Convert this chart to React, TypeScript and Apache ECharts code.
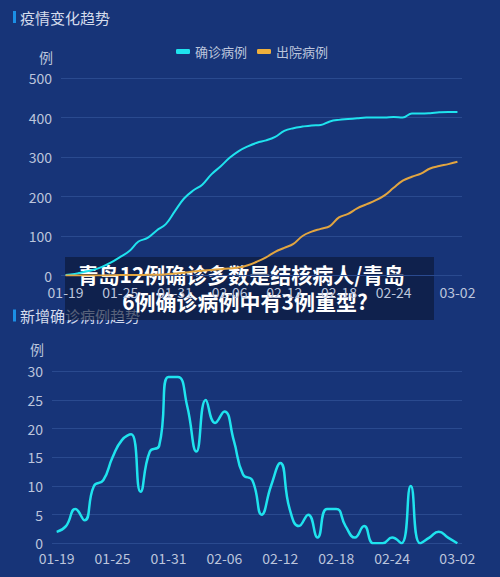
import { useEffect, useRef } from 'react';
import * as echarts from 'echarts';

const dates = [
  '01-19', '01-20', '01-21', '01-22', '01-23', '01-24', '01-25', '01-26', '01-27', '01-28', '01-29',
  '01-30', '01-31', '02-01', '02-02', '02-03', '02-04', '02-05', '02-06', '02-07', '02-08', '02-09',
  '02-10', '02-11', '02-12', '02-13', '02-14', '02-15', '02-16', '02-17', '02-18', '02-19', '02-20',
  '02-21', '02-22', '02-23', '02-24', '02-25', '02-26', '02-27', '02-28', '02-29', '03-01', '03-02',
];

// 疫情变化趋势
const confirmed = [
  1, 4, 9, 14, 22, 33, 47, 62, 86, 95, 114, 130, 163, 195, 215, 230, 256, 276, 298, 315, 327, 336,
  342, 351, 366, 373, 377, 380, 381, 390, 394, 396, 398, 400, 400, 400, 401, 400, 410, 410, 411, 413,
  414, 414,
];
const discharged = [
  0, 0, 0, 0, 0, 0, 1, 1, 1, 2, 2, 3, 5, 7, 10, 12, 14, 16, 18, 20, 26, 35, 46, 60, 70, 80, 100, 111,
  118, 125, 147, 156, 170, 180, 190, 203, 222, 240, 250, 258, 271, 277, 282, 288,
];

// 新增确诊病例趋势
const dailyNew = [
  2, 3, 6, 4, 10, 11, 15, 18, 19, 9, 16, 17, 29, 29, 24, 16, 25, 21, 23, 18, 12, 11, 5, 10, 14, 6,
  3, 5, 1, 6, 6, 3, 1, 3, 0, 0, 1, 0, 10, 0, 1, 2, 1, 0,
];

const topTicks = { min: 0, max: 500, interval: 100 };
const bottomTicks = { min: 0, max: 30, interval: 5 };

const headline = ['青岛12例确诊多数是结核病人/青岛', '6例确诊病例中有3例重型?'];

const BG = '#173478';
const CYAN = '#1fe3ee';
const ORANGE = '#e2a540';
const LABEL = '#bcc5dc';
const GRID_LINE = '#2a4a8f';
const FONT = '"Noto Sans CJK SC", "Noto Sans", sans-serif';

const showLabel = (i: number) => (i % 6 === 0 && i <= 36) || i === dates.length - 1;

function makeX(gridIndex: number, margin: number) {
  return {
    type: 'category' as const,
    gridIndex,
    data: dates,
    boundaryGap: true,
    axisLine: { show: false },
    axisTick: { show: false },
    axisLabel: {
      interval: (i: number) => showLabel(i),
      color: LABEL,
      fontSize: 14,
      fontFamily: FONT,
      margin,
    },
  };
}

function makeY(gridIndex: number, ticks: { min: number; max: number; interval: number }, gap: number) {
  return {
    type: 'value' as const,
    gridIndex,
    ...ticks,
    name: '例',
    nameGap: gap,
    nameTextStyle: { color: LABEL, fontSize: 14, fontFamily: FONT, align: 'right', padding: [0, 8, 0, 0] },
    axisLine: { show: false },
    axisTick: { show: false },
    axisLabel: { color: LABEL, fontSize: 14, fontFamily: FONT, margin: 9 },
    splitLine: { lineStyle: { color: GRID_LINE, width: 1 } },
  };
}

function sectionTitle(text: string, y: number) {
  return [
    { type: 'rect', shape: { x: 13, y: y - 6, width: 3, height: 12 }, style: { fill: '#1b8fe6' } },
    {
      type: 'text',
      x: 20,
      y,
      style: { text, fill: '#d5dcec', font: `15px ${FONT}`, textVerticalAlign: 'middle' },
    },
  ];
}

export default function App() {
  const ref = useRef<HTMLDivElement>(null);

  useEffect(() => {
    if (!ref.current) return;
    const chart = echarts.init(ref.current, undefined, { renderer: 'svg' });
    chart.setOption({
      animation: false,
      backgroundColor: BG,
      textStyle: { fontFamily: FONT },
      legend: {
        left: 171,
        top: 40,
        itemWidth: 14,
        itemHeight: 5,
        itemGap: 10,
        icon: 'roundRect',
        textStyle: { color: LABEL, fontSize: 13, fontFamily: FONT },
        data: ['确诊病例', '出院病例'],
      },
      grid: [
        { left: 61, right: 38, top: 78, bottom: 301.5 },
        { left: 52, right: 38, top: 371.3, bottom: 33.7 },
      ],
      xAxis: [makeX(0, 9), makeX(1, 8)],
      yAxis: [makeY(0, topTicks, 14), makeY(1, bottomTicks, 15)],
      series: [
        {
          name: '确诊病例',
          type: 'line',
          xAxisIndex: 0,
          yAxisIndex: 0,
          data: confirmed,
          smooth: 0.4,
          showSymbol: false,
          itemStyle: { color: CYAN },
          lineStyle: { color: CYAN, width: 2 },
        },
        {
          name: '出院病例',
          type: 'line',
          xAxisIndex: 0,
          yAxisIndex: 0,
          data: discharged,
          smooth: 0.4,
          showSymbol: false,
          itemStyle: { color: '#f0b03c' },
          lineStyle: { color: ORANGE, width: 2 },
        },
        {
          name: '新增确诊',
          type: 'line',
          xAxisIndex: 1,
          yAxisIndex: 1,
          data: dailyNew,
          smooth: true,
          showSymbol: false,
          itemStyle: { color: CYAN },
          lineStyle: { color: CYAN, width: 2.5 },
        },
      ],
      graphic: [
        ...sectionTitle('疫情变化趋势', 17),
        ...sectionTitle('新增确诊病例趋势', 315.5),
        {
          type: 'group',
          z: 100,
          children: [
            {
              type: 'rect',
              shape: { x: 65, y: 257, width: 369, height: 63 },
              style: { fill: 'rgba(12, 22, 52, 0.62)' },
            },
            {
              type: 'text',
              x: 241,
              y: 274,
              style: {
                text: headline[0],
                fill: '#ffffff',
                font: `bold 21px ${FONT}`,
                textAlign: 'center',
                textVerticalAlign: 'middle',
              },
            },
            {
              type: 'text',
              x: 245,
              y: 301,
              style: {
                text: headline[1],
                fill: '#ffffff',
                font: `bold 21px ${FONT}`,
                textAlign: 'center',
                textVerticalAlign: 'middle',
              },
            },
          ],
        },
      ],
    });
    return () => chart.dispose();
  }, []);

  return <div ref={ref} style={{ position: 'fixed', left: 0, top: 0, width: 500, height: 577 }} />;
}
